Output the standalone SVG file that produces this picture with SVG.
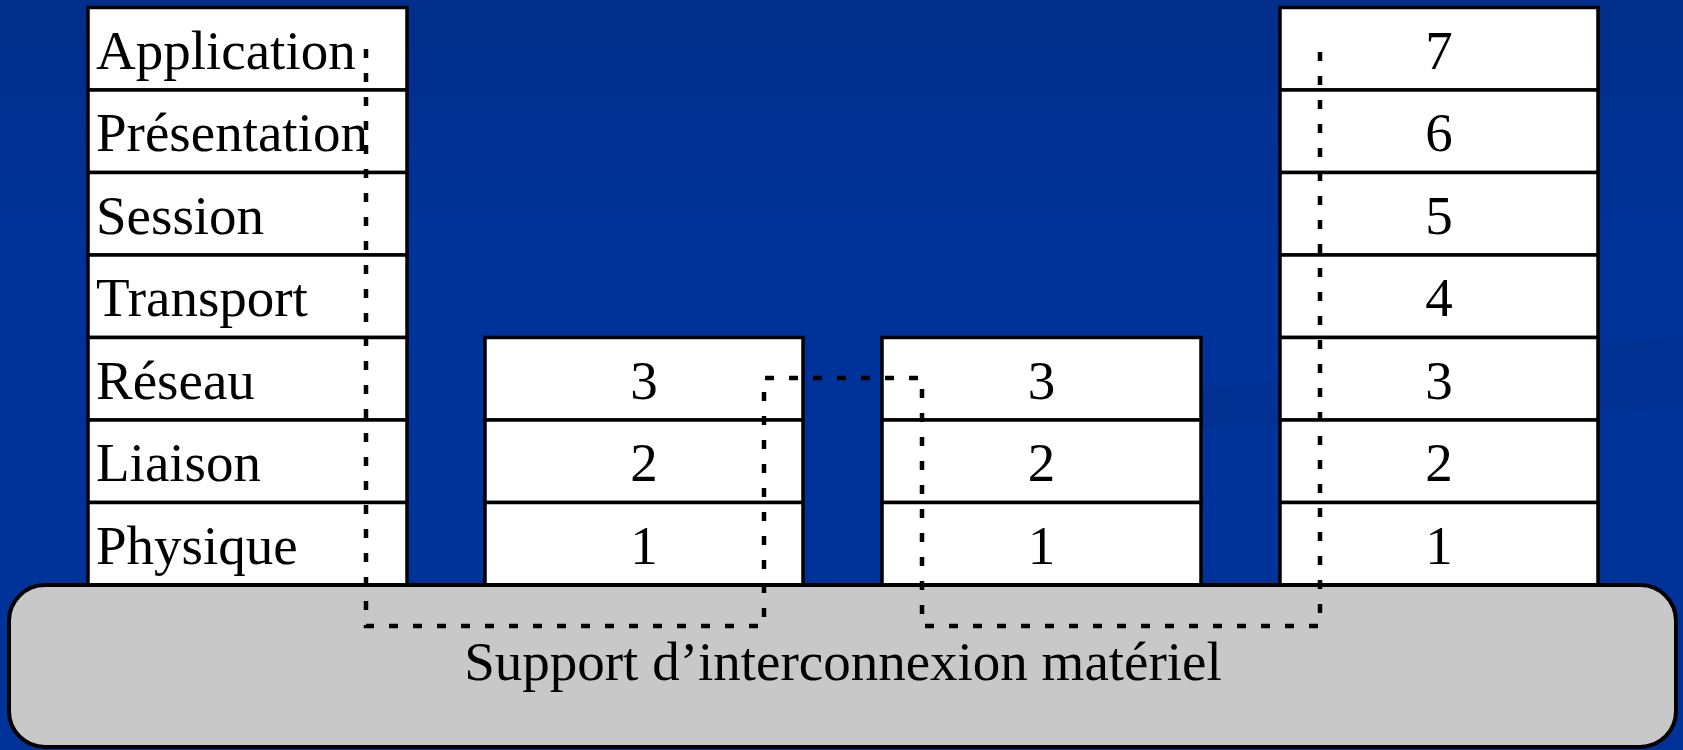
<svg xmlns="http://www.w3.org/2000/svg" width="1683" height="750" viewBox="0 0 1683 750">
  <defs>
    <linearGradient id="bg" x1="0" y1="0" x2="0" y2="1">
      <stop offset="0" stop-color="#002e8a"/>
      <stop offset="0.35" stop-color="#003399"/>
      <stop offset="1" stop-color="#003399"/>
    </linearGradient>
    <style>
      .cell { fill: #ffffff; stroke: #000000; stroke-width: 3.5; }
      .lbl { font-family: "Liberation Serif", "Times New Roman", serif; font-size: 55px; fill: #000000; }
      .num { font-family: "Liberation Serif", "Times New Roman", serif; font-size: 55px; fill: #000000; text-anchor: middle; }
      .sup { fill: #c8c8c8; stroke: #000000; stroke-width: 4; }
      .dot { fill: none; stroke: #000000; stroke-width: 4.5; stroke-dasharray: 9 15; }
    </style>
  </defs>
  <rect x="0" y="0" width="1683" height="750" fill="url(#bg)"/>
  <polygon points="1120,398 1683,335 1683,408 1120,430" fill="#002c88" opacity="0.35"/>

  <g id="stack-left">
    <rect class="cell" x="88" y="7.5" width="319" height="82.5"/>
    <rect class="cell" x="88" y="90" width="319" height="82.5"/>
    <rect class="cell" x="88" y="172.5" width="319" height="82.5"/>
    <rect class="cell" x="88" y="255" width="319" height="82.5"/>
    <rect class="cell" x="88" y="337.5" width="319" height="82.5"/>
    <rect class="cell" x="88" y="420" width="319" height="82.5"/>
    <rect class="cell" x="88" y="502.5" width="319" height="82.5"/>
    <text class="lbl" x="96" y="68.5">Application</text>
    <text class="lbl" x="96" y="151">Présentation</text>
    <text class="lbl" x="96" y="233.5">Session</text>
    <text class="lbl" x="96" y="316">Transport</text>
    <text class="lbl" x="96" y="398.5">Réseau</text>
    <text class="lbl" x="96" y="481">Liaison</text>
    <text class="lbl" x="96" y="563.5">Physique</text>
  </g>

  <g id="stack-mid1">
    <rect class="cell" x="485" y="337.5" width="318" height="82.5"/>
    <rect class="cell" x="485" y="420" width="318" height="82.5"/>
    <rect class="cell" x="485" y="502.5" width="318" height="82.5"/>
    <text class="num" x="644" y="398.5">3</text>
    <text class="num" x="644" y="481">2</text>
    <text class="num" x="644" y="563.5">1</text>
  </g>

  <g id="stack-mid2">
    <rect class="cell" x="882" y="337.5" width="319" height="82.5"/>
    <rect class="cell" x="882" y="420" width="319" height="82.5"/>
    <rect class="cell" x="882" y="502.5" width="319" height="82.5"/>
    <text class="num" x="1041.5" y="398.5">3</text>
    <text class="num" x="1041.5" y="481">2</text>
    <text class="num" x="1041.5" y="563.5">1</text>
  </g>

  <g id="stack-right">
    <rect class="cell" x="1280" y="7.5" width="318" height="82.5"/>
    <rect class="cell" x="1280" y="90" width="318" height="82.5"/>
    <rect class="cell" x="1280" y="172.5" width="318" height="82.5"/>
    <rect class="cell" x="1280" y="255" width="318" height="82.5"/>
    <rect class="cell" x="1280" y="337.5" width="318" height="82.5"/>
    <rect class="cell" x="1280" y="420" width="318" height="82.5"/>
    <rect class="cell" x="1280" y="502.5" width="318" height="82.5"/>
    <text class="num" x="1439" y="68.5">7</text>
    <text class="num" x="1439" y="151">6</text>
    <text class="num" x="1439" y="233.5">5</text>
    <text class="num" x="1439" y="316">4</text>
    <text class="num" x="1439" y="398.5">3</text>
    <text class="num" x="1439" y="481">2</text>
    <text class="num" x="1439" y="563.5">1</text>
  </g>

  <g id="support">
    <rect class="sup" x="9" y="585" width="1667" height="162" rx="36" ry="36"/>
    <text class="num" x="843" y="680">Support d’interconnexion matériel</text>
  </g>

  <g id="connectors">
    <path class="dot" d="M366,49 V626 H764 V378 H922 V626 H1320 V49"/>
  </g>
</svg>
